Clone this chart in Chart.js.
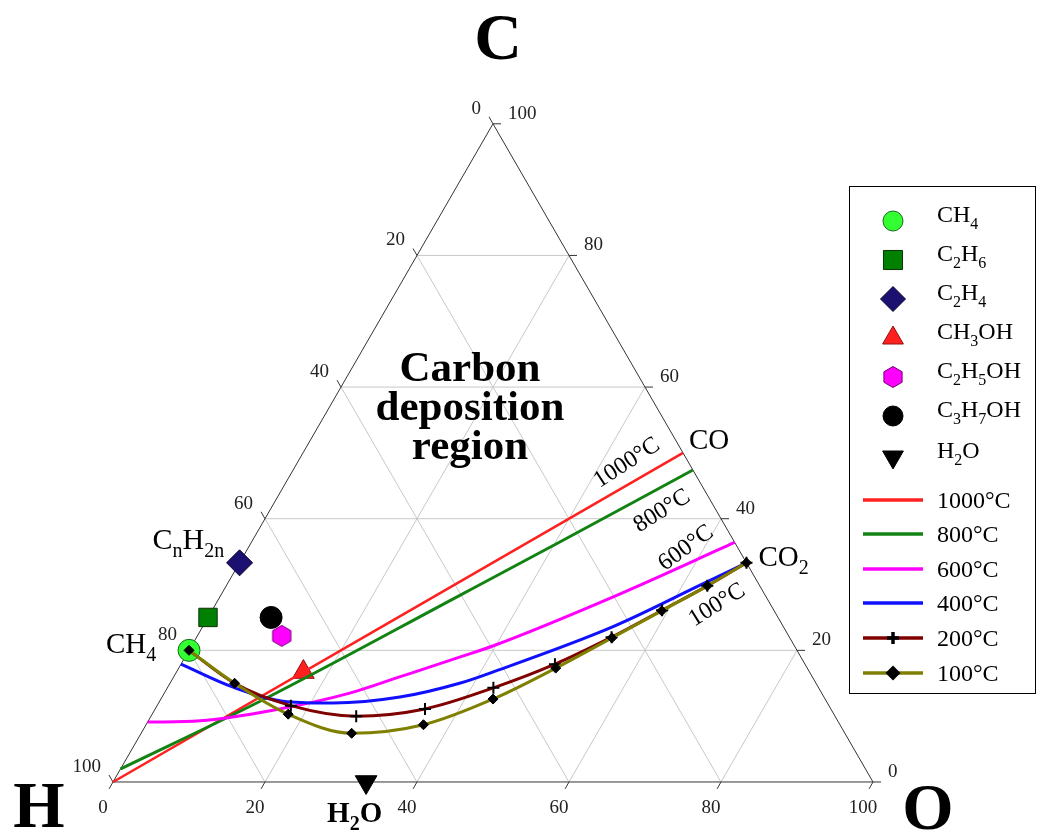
<!DOCTYPE html>
<html>
<head>
<meta charset="utf-8">
<script src="https://cdn.jsdelivr.net/npm/chart.js@4"></script>
<style>
  html, body { margin: 0; padding: 0; background: #fff; }
  #wrap { width: 1038px; height: 832px; }
</style>
</head>
<body>
<div id="wrap"><canvas id="ternary" width="1038" height="832"></canvas></div>
<script>
// Species compositions (atom %), H = 100 - C - O
const speciesNames = ['CH_4', 'C_2H_6', 'C_2H_4', 'CH_3OH', 'C_2H_5OH', 'C_3H_7OH', 'H_2O'];
const speciesC = [20, 25, 33.3, 16.7, 22.2, 25, 0];
const speciesO = [0, 0, 0, 16.7, 11.1, 8.3, 33.3];

// Carbon deposition boundaries (C %, O %)
const t1000C = [0, 50];
const t1000O = [0, 50];
const t800C = [2, 12.5, 28.4, 36.5, 47.4];
const t800O = [0, 13.5, 31.5, 40.6, 52.6];
const t600C = [9.1, 9.3, 10.9, 13.5, 16.0, 19.0, 20.7, 28.1, 36.4];
const t600O = [0, 6.8, 15.6, 24.4, 29.8, 36.2, 39.7, 51.7, 63.6];
const t400C = [17.9, 14.4, 12.2, 12.0, 12.9, 15.0, 16.7, 23.6, 29.9, 33.3];
const t400O = [0, 8.6, 16.8, 23.0, 31.3, 38.1, 41.6, 54.0, 62.3, 66.7];
const t200C = [20, 15.0, 11.6, 10.0, 11.1, 14.3, 17.9, 22.0, 26.1, 29.8, 33.3];
const t200O = [0, 8.5, 17.6, 27.0, 35.5, 42.9, 49.2, 54.6, 59.2, 63.3, 66.7];
const t100C = [20, 15.0, 10.3, 7.4, 8.7, 12.6, 17.3, 21.9, 26.0, 29.8, 33.3];
const t100O = [0, 8.5, 17.9, 27.7, 36.5, 43.7, 49.6, 54.7, 59.2, 63.3, 66.7];

const curveLabels = ['1000°C', '800°C', '600°C', '400°C', '200°C', '100°C'];
const tickValues = [0, 20, 40, 60, 80, 100];

const SQ3 = Math.sqrt(3) / 2;
const SERIF = '"Liberation Serif", "DejaVu Serif", serif';

// ternary (C, O) -> cartesian
function toXY(c, o) {
    return { x: o + c / 2, y: c * SQ3 };
}

function series(cs, os) {
    return cs.map((c, i) => toXY(c, os[i]));
}

// hexagon marker for ethanol
const hexCanvas = document.createElement('canvas');
hexCanvas.width = 26;
hexCanvas.height = 26;
(function () {
    const g = hexCanvas.getContext('2d');
    g.beginPath();
    for (let k = 0; k < 6; k++) {
        const a = Math.PI / 2 + k * Math.PI / 3;
        const px = 13 + 10.5 * Math.cos(a);
        const py = 13 + 10.5 * Math.sin(a);
        if (k === 0) g.moveTo(px, py); else g.lineTo(px, py);
    }
    g.closePath();
    g.fillStyle = '#ff00ff';
    g.fill();
    g.strokeStyle = '#700070';
    g.lineWidth = 1;
    g.stroke();
})();

const speciesStyles = [
    { pointStyle: 'circle', radius: 11, legendRadius: 10, bg: '#33ff33', border: '#1a6a1a', rotation: 0 },
    { pointStyle: 'rect', radius: 13, legendRadius: 13.5, bg: '#008000', border: '#0a300a', rotation: 0 },
    { pointStyle: 'rectRot', radius: 13, legendRadius: 12.5, bg: '#1c1070', border: '#0a0530', rotation: 0 },
    { pointStyle: 'triangle', radius: 12.5, legendRadius: 12, bg: '#ff2020', border: '#901010', rotation: 0 },
    { pointStyle: hexCanvas, radius: 11, legendRadius: 11, bg: '#ff00ff', border: '#700070', rotation: 0 },
    { pointStyle: 'circle', radius: 11, legendRadius: 10, bg: '#000000', border: '#000000', rotation: 0 },
    { pointStyle: 'triangle', radius: 12.5, legendRadius: 12, bg: '#000000', border: '#000000', rotation: 180 }
];

const curveStyles = [
    { color: '#ff2020', width: 2.5, marker: false },
    { color: '#128312', width: 3, marker: false },
    { color: '#ff00ff', width: 3, marker: false },
    { color: '#1010ff', width: 3, marker: false },
    { color: '#800000', width: 3, marker: 'cross' },
    { color: '#808000', width: 3, marker: 'rectRot' }
];

const curveData = [
    series(t1000C, t1000O),
    series(t800C, t800O),
    series(t600C, t600O),
    series(t400C, t400O),
    series(t200C, t200O),
    series(t100C, t100O)
];

const datasets = [];

speciesNames.forEach((name, i) => {
    const s = speciesStyles[i];
    datasets.push({
        label: name,
        data: [toXY(speciesC[i], speciesO[i])],
        pointStyle: s.pointStyle,
        pointRadius: s.radius,
        pointRotation: s.rotation,
        backgroundColor: s.bg,
        borderColor: s.border,
        pointBorderWidth: 1,
        showLine: false,
        order: 10
    });
});

curveLabels.forEach((name, i) => {
    const s = curveStyles[i];
    let radius = 0;
    if (s.marker === 'rectRot') radius = 5;
    // crosses hidden where they sit under the 100°C diamonds near CH4
    if (s.marker === 'cross') radius = ctx => (ctx.dataIndex < 2 ? 0 : 6);
    datasets.push({
        label: name,
        data: curveData[i],
        showLine: true,
        borderColor: s.color,
        borderWidth: s.width,
        cubicInterpolationMode: 'monotone',
        pointStyle: s.marker || 'circle',
        pointRadius: radius,
        pointBorderColor: '#000',
        pointBackgroundColor: '#000',
        pointBorderWidth: s.marker === 'cross' ? 2 : 1,
        order: 6 - i
    });
});

// subscript-aware text
function parseFormula(s) {
    const out = [];
    let i = 0;
    while (i < s.length) {
        if (s[i] === '_') {
            i++;
            if (s[i] === '{') {
                const j = s.indexOf('}', i);
                out.push({ t: s.slice(i + 1, j), sub: true });
                i = j + 1;
            } else {
                out.push({ t: s[i], sub: true });
                i++;
            }
        } else {
            let j = i;
            while (j < s.length && s[j] !== '_') j++;
            out.push({ t: s.slice(i, j), sub: false });
            i = j;
        }
    }
    return out;
}

function drawFormula(ctx, s, x, y, size, weight, align) {
    const parts = parseFormula(s);
    const subSize = Math.round(size * 0.68);
    let total = 0;
    parts.forEach(p => {
        ctx.font = (weight || 'normal') + ' ' + (p.sub ? subSize : size) + 'px ' + SERIF;
        p.w = ctx.measureText(p.t).width;
        total += p.w;
    });
    let cx = x;
    if (align === 'right') cx = x - total;
    if (align === 'center') cx = x - total / 2;
    ctx.textAlign = 'left';
    ctx.textBaseline = 'alphabetic';
    parts.forEach(p => {
        ctx.font = (weight || 'normal') + ' ' + (p.sub ? subSize : size) + 'px ' + SERIF;
        ctx.fillText(p.t, cx, p.sub ? y + size * 0.28 : y);
        cx += p.w;
    });
}

const ternaryPlugin = {
    id: 'ternaryFrame',
    beforeDatasetsDraw(chart) {
        const ctx = chart.ctx;
        const xs = chart.scales.x, ys = chart.scales.y;
        const P = (c, o) => {
            const q = toXY(c, o);
            return [xs.getPixelForValue(q.x), ys.getPixelForValue(q.y)];
        };
        const seg = (a, b) => {
            ctx.beginPath();
            ctx.moveTo(a[0], a[1]);
            ctx.lineTo(b[0], b[1]);
            ctx.stroke();
        };
        ctx.save();
        // grid
        ctx.strokeStyle = '#c8c8c8';
        ctx.lineWidth = 1;
        [20, 40, 60, 80].forEach(k => {
            seg(P(k, 0), P(k, 100 - k));
            seg(P(0, k), P(100 - k, k));
            seg(P(100 - k, 0), P(0, 100 - k));
        });
        // frame
        ctx.strokeStyle = '#333';
        seg(P(0, 0), P(0, 100));
        seg(P(0, 100), P(100, 0));
        seg(P(100, 0), P(0, 0));
        // ticks + labels
        ctx.fillStyle = '#222';
        ctx.font = '19px ' + SERIF;
        const L = 8;
        tickValues.forEach(k => {
            // bottom: O
            let p = P(0, k);
            seg(p, [p[0] - 0.5 * L, p[1] + SQ3 * L]);
            ctx.textAlign = 'center';
            ctx.textBaseline = 'middle';
            ctx.fillText(String(k), p[0] - 10, p[1] + 26);
            // left: H
            p = P(100 - k, 0);
            seg(p, [p[0] - 0.5 * L, p[1] - SQ3 * L]);
            ctx.textAlign = 'right';
            ctx.fillText(String(k), p[0] - 12, p[1] - 15);
            // right: C
            p = P(k, 100 - k);
            seg(p, [p[0] + L, p[1]]);
            ctx.textAlign = 'left';
            ctx.fillText(String(k), p[0] + 15, p[1] - 10);
        });
        ctx.restore();
    },
    afterDatasetsDraw(chart) {
        const ctx = chart.ctx;
        const xs = chart.scales.x, ys = chart.scales.y;
        const P = (c, o) => {
            const q = toXY(c, o);
            return [xs.getPixelForValue(q.x), ys.getPixelForValue(q.y)];
        };
        ctx.save();
        ctx.fillStyle = '#000';

        // vertex letters
        ctx.font = 'bold 66px ' + SERIF;
        ctx.textAlign = 'center';
        ctx.textBaseline = 'middle';
        let p = P(100, 0);
        ctx.fillText('C', p[0] + 5, p[1] - 82);
        p = P(0, 0);
        ctx.fillText('H', p[0] - 74, p[1] + 28);
        p = P(0, 100);
        ctx.fillText('O', p[0] + 55, p[1] + 30);

        // region text
        ctx.font = 'bold 43px ' + SERIF;
        ['Carbon', 'deposition', 'region'].forEach((t, i) => {
            ctx.fillText(t, 470, 370 + i * 39);
        });

        // species labels
        p = P(50, 50);
        drawFormula(ctx, 'CO', p[0] + 6, p[1] - 4, 29, 'normal', 'left');
        p = P(33.3, 66.7);
        drawFormula(ctx, 'CO_2', p[0] + 12, p[1] + 3, 29, 'normal', 'left');
        p = P(20, 0);
        drawFormula(ctx, 'CH_4', p[0] - 83, p[1] + 3, 29, 'normal', 'left');
        p = P(33.3, 0);
        drawFormula(ctx, 'C_nH_{2n}', p[0] - 87, p[1] - 14, 30, 'normal', 'left');
        p = P(0, 33.3);
        drawFormula(ctx, 'H_2O', p[0] - 39, p[1] + 40, 29, 'bold', 'left');

        // rotated temperature labels
        const rot = (t, x, y, deg) => {
            ctx.save();
            ctx.translate(x, y);
            ctx.rotate(deg * Math.PI / 180);
            ctx.font = '24px ' + SERIF;
            ctx.textAlign = 'center';
            ctx.textBaseline = 'middle';
            ctx.fillText(t, 0, 0);
            ctx.restore();
        };
        rot('1000°C', 627, 463, -33);
        rot('800°C', 662, 511, -32);
        rot('600°C', 686, 548, -36);
        rot('100°C', 717, 605, -32);

        // legend
        const lx = 849.5, ly = 186.5, lw = 186, lh = 507;
        ctx.fillStyle = '#fff';
        ctx.fillRect(lx, ly, lw, lh);
        ctx.strokeStyle = '#000';
        ctx.lineWidth = 1;
        ctx.strokeRect(lx, ly, lw, lh);
        const rowsS = [221, 260, 299, 338, 377, 416, 457];
        speciesNames.forEach((name, i) => {
            const s = speciesStyles[i];
            ctx.fillStyle = s.bg;
            ctx.strokeStyle = s.border;
            ctx.lineWidth = 1;
            Chart.helpers.drawPoint(ctx, {
                pointStyle: s.pointStyle, radius: s.legendRadius,
                rotation: s.rotation, borderWidth: 1
            }, 893, rowsS[i]);
            ctx.fillStyle = '#000';
            drawFormula(ctx, name, 937, rowsS[i] + 1, 24, 'normal', 'left');
        });
        const rowsL = [500, 534, 569, 603, 638, 673];
        curveLabels.forEach((name, i) => {
            const s = curveStyles[i];
            ctx.strokeStyle = s.color;
            ctx.lineWidth = 3.5;
            ctx.beginPath();
            ctx.moveTo(863, rowsL[i]);
            ctx.lineTo(923, rowsL[i]);
            ctx.stroke();
            if (s.marker) {
                ctx.fillStyle = '#000';
                ctx.strokeStyle = '#000';
                Chart.helpers.drawPoint(ctx, {
                    pointStyle: s.marker, radius: s.marker === 'cross' ? 6 : 5,
                    rotation: 0, borderWidth: s.marker === 'cross' ? 2 : 1
                }, 893, rowsL[i]);
            }
            ctx.fillStyle = '#000';
            ctx.font = '24px ' + SERIF;
            ctx.textAlign = 'left';
            ctx.textBaseline = 'middle';
            ctx.fillText(name, 937, rowsL[i] + 2);
        });
        ctx.restore();
    }
};

const chart = new Chart(document.getElementById('ternary').getContext('2d'), {
    type: 'scatter',
    data: { datasets: datasets },
    options: {
        responsive: false,
        animation: false,
        layout: { padding: 0, autoPadding: false },
        plugins: {
            legend: { display: false },
            tooltip: { enabled: false }
        },
        scales: {
            x: { type: 'linear', min: -14.87, max: 121.71, display: false },
            y: { type: 'linear', min: -6.58, max: 102.89, display: false }
        }
    },
    plugins: [ternaryPlugin]
});
</script>
</body>
</html>
